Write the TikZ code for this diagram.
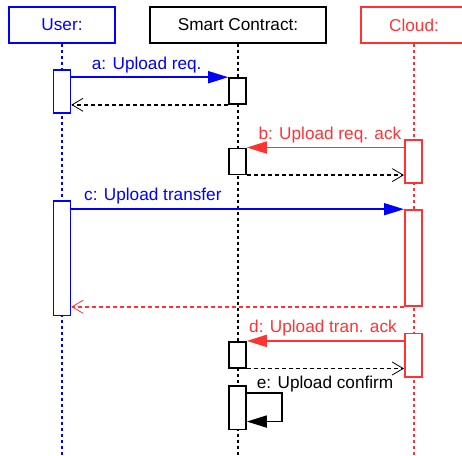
\documentclass[tikz,border=0pt]{standalone}
\usepackage{fontspec}
\setmainfont{Liberation Sans}
\usetikzlibrary{arrows.meta,backgrounds}
\definecolor{ublue}{RGB}{0,0,255}
\definecolor{cred}{RGB}{255,51,51}
\begin{document}
\begin{tikzpicture}[x=1pt,y=-1pt,
  every node/.style={font=\fontsize{17.2}{20}\selectfont},
  header/.style={draw,line width=1.6pt,minimum height=36pt,inner sep=0pt},
  act/.style={fill=white,line width=1.6pt,minimum width=17pt,inner sep=0pt},
  lifeline/.style={line width=1.6pt,dash pattern=on 3pt off 3pt},
  msg/.style={line width=1.6pt,-{Triangle[length=20pt,width=12pt]}},
  ret/.style={line width=1.4pt,dash pattern=on 4pt off 3pt,-{Straight Barb[length=11pt,width=13pt,line width=0.8pt]}},
  lbl/.style={anchor=base west,inner sep=0pt}
]
\useasboundingbox (0,0) rectangle (462,455);
% headers
\node[header,ublue,minimum width=106pt] (user) at (62,25) {User:};
\node[header,black,minimum width=176pt] (sc) at (238,25) {Smart Contract:};
\node[header,cred,minimum width=106pt] (cloud) at (414,25) {Cloud:};
\coordinate (userEnd) at (62,455);
\coordinate (scEnd) at (238,455);
\coordinate (cloudEnd) at (414,455);
% activation boxes
\node[act,draw=ublue,minimum height=43pt] (ua1) at (62,91.5) {};
\node[act,draw=black,minimum height=26pt] (sa1) at (237.5,91) {};
\node[act,draw=cred,minimum height=43pt] (ca1) at (413.3,161.5) {};
\node[act,draw=black,minimum height=26pt] (sa2) at (237.5,161.3) {};
\node[act,draw=ublue,minimum height=114.7pt] (ua2) at (62,258.3) {};
\node[act,draw=cred,minimum height=96pt] (ca2) at (413.3,258) {};
\node[act,draw=cred,minimum height=43.4pt] (ca3) at (413.3,355) {};
\node[act,draw=black,minimum height=26pt] (sa3) at (237.5,354.7) {};
\node[act,draw=black,minimum height=43.3pt] (sa4) at (237.5,407.7) {};
% lifelines
\begin{scope}[on background layer]
\draw[lifeline,ublue] (user.south) -- (userEnd);
\draw[lifeline,black] (sc.south) -- (scEnd);
\draw[lifeline,cred] (cloud.south) -- (cloudEnd);
\end{scope}
% messages
\draw[msg,ublue] (ua1.east |- sa1.north) -- (sa1.north west);
\node[lbl,ublue] (la) at (91.7,69) {a: Upload req.};
\draw[ret,black] (sa1.south west) -- (ua1.east |- sa1.south);
\draw[msg,cred] (ca1.west |- sa2.north) -- (sa2.north east);
\node[lbl,cred] (lb) at (258.3,139) {b: Upload req. ack};
\draw[ret,black] (sa2.south east) -- (ca1.west |- sa2.south);
\draw[msg,ublue] (ua2.east |- ca2.north) -- (ca2.north west);
\node[lbl,ublue] (lc) at (84,200.3) {c: Upload transfer};
\draw[ret,cred] (ca2.south west) -- (ua2.east |- ca2.south);
\draw[msg,cred] (ca3.west |- sa3.north) -- (sa3.north east);
\node[lbl,cred] (ld) at (249,332.3) {d: Upload tran. ack};
\draw[ret,black] (sa3.south east) -- (ca3.west |- sa3.south);
\draw[msg,black] ([yshift=-8pt]sa4.north east) -| ([xshift=35pt,yshift=8.6pt]sa4.south east) -- ([yshift=8.6pt]sa4.south east);
\node[lbl,black] (le) at (256.7,388) {e: Upload confirm};
\end{tikzpicture}
\end{document}
